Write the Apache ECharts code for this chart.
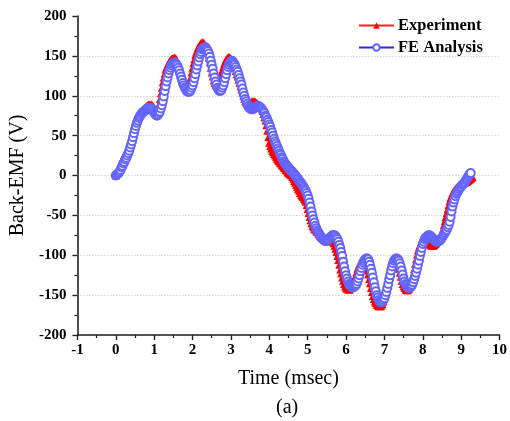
<!DOCTYPE html>
<html>
<head>
<meta charset="utf-8">
<title>Back-EMF waveform</title>
<script src="https://cdn.jsdelivr.net/npm/echarts@6/dist/echarts.min.js"></script>
<style>
  html, body { margin: 0; padding: 0; background: #fff; }
  #chart { width: 510px; height: 421px; }
</style>
</head>
<body>
<div id="chart"></div>
<script>
// Sampling interval of both waveforms, in msec
const sampleStep = 0.025;

// Measured back-EMF (V), one value per sample starting at t = 0
const experimentEmf = [
  0, 3, 6, 9, 12, 15, 18, 21, 23, 26, 28, 30, 32, 35, 38, 42, 46, 50, 55, 60,
  64, 68, 71, 74, 76, 78, 79, 81, 82, 84, 85, 86, 87, 88, 89, 89, 89, 89, 88, 87,
  85, 83, 82, 82, 84, 89, 96, 103, 110, 117, 123, 128, 133, 136, 139, 141, 143, 145, 146, 147,
  147, 148, 147, 146, 144, 141, 137, 132, 127, 122, 118, 115, 113, 112, 112, 113, 115, 119, 123, 129,
  135, 141, 146, 151, 155, 158, 161, 163, 165, 166, 167, 167, 166, 164, 162, 158, 154, 148, 142, 135,
  129, 124, 119, 116, 114, 113, 114, 116, 119, 123, 127, 132, 136, 140, 143, 145, 147, 148, 149, 148,
  147, 145, 142, 139, 135, 131, 127, 124, 120, 116, 112, 108, 104, 100, 96, 93, 91, 90, 90, 90,
  91, 92, 93, 93, 93, 93, 92, 91, 90, 89, 88, 86, 84, 81, 77, 73, 69, 63, 56, 48,
  41, 37, 34, 31, 29, 27, 25, 23, 21, 19, 18, 16, 15, 13, 12, 10, 9, 7, 6, 4,
  3, 2, 1, 0, -2, -4, -7, -9, -12, -14, -17, -19, -22, -24, -26, -27, -29, -31, -33, -37,
  -42, -47, -52, -56, -60, -63, -65, -67, -68, -70, -71, -73, -74, -76, -77, -78, -78, -79, -79, -80,
  -80, -80, -80, -80, -81, -82, -83, -85, -88, -92, -96, -101, -106, -112, -118, -123, -128, -132, -136, -139,
  -141, -142, -143, -143, -143, -141, -139, -136, -133, -129, -125, -121, -117, -114, -111, -109, -108, -107, -107, -109,
  -111, -115, -119, -124, -130, -135, -141, -146, -151, -155, -158, -160, -162, -163, -164, -164, -164, -163, -161, -158,
  -154, -149, -143, -136, -130, -124, -119, -115, -111, -109, -107, -107, -108, -110, -113, -117, -122, -127, -132, -136,
  -139, -141, -143, -144, -144, -143, -142, -139, -135, -130, -124, -117, -111, -105, -99, -94, -90, -87, -84, -82,
  -81, -80, -80, -81, -82, -83, -85, -86, -87, -88, -88, -88, -87, -86, -85, -83, -81, -79, -77, -74,
  -71, -67, -62, -57, -52, -47, -42, -37, -32, -28, -25, -22, -20, -18, -17, -15, -14, -13, -12, -11,
  -11, -10, -10, -9, -9, -8, -8, -7, -6, -5, -4, -3, -2
];

// Finite-element prediction of the back-EMF (V), same sampling
const feAnalysisEmf = [
  0, 1, 2, 3, 5, 7, 10, 12, 15, 17, 20, 22, 25, 28, 31, 35, 39, 43, 48, 53,
  58, 62, 66, 69, 72, 74, 76, 78, 79, 80, 81, 82, 83, 84, 85, 85, 85, 84, 83, 81,
  79, 77, 76, 75, 76, 78, 80, 84, 88, 93, 99, 106, 112, 118, 123, 128, 132, 135, 138, 140,
  141, 142, 141, 140, 138, 135, 132, 128, 124, 120, 116, 113, 110, 108, 106, 105, 105, 105, 107, 110,
  113, 117, 122, 127, 133, 138, 143, 148, 152, 155, 158, 159, 160, 161, 160, 158, 156, 153, 149, 144,
  139, 134, 128, 123, 118, 114, 110, 108, 106, 106, 107, 110, 113, 117, 122, 127, 132, 136, 139, 141,
  143, 144, 143, 141, 139, 136, 133, 130, 126, 122, 118, 114, 109, 104, 100, 96, 93, 90, 87, 85,
  84, 83, 83, 83, 84, 85, 86, 87, 87, 87, 86, 85, 84, 82, 80, 78, 75, 73, 70, 67,
  64, 61, 57, 54, 50, 46, 43, 40, 37, 34, 31, 28, 26, 23, 21, 18, 16, 14, 13, 11,
  10, 8, 7, 6, 5, 3, 2, 0, -1, -3, -4, -6, -8, -9, -11, -13, -15, -17, -19, -22,
  -25, -29, -34, -39, -45, -50, -55, -59, -63, -66, -69, -71, -73, -75, -77, -79, -80, -81, -82, -82,
  -82, -81, -80, -78, -77, -76, -75, -75, -75, -76, -78, -80, -83, -87, -91, -96, -101, -108, -114, -120,
  -125, -129, -133, -136, -138, -139, -140, -140, -140, -139, -138, -136, -133, -129, -125, -120, -116, -112, -109, -107,
  -105, -104, -104, -105, -108, -112, -117, -122, -128, -134, -140, -145, -150, -153, -156, -158, -159, -159, -158, -156,
  -154, -150, -146, -141, -136, -130, -125, -119, -114, -110, -107, -105, -104, -104, -105, -107, -110, -114, -119, -124,
  -129, -133, -136, -138, -140, -141, -141, -140, -139, -137, -134, -130, -126, -122, -117, -112, -107, -101, -96, -91,
  -86, -83, -80, -78, -77, -76, -75, -75, -76, -77, -78, -80, -81, -82, -83, -83, -83, -82, -81, -80,
  -78, -76, -74, -72, -70, -68, -65, -62, -58, -52, -45, -39, -34, -30, -26, -23, -21, -19, -17, -15,
  -14, -12, -11, -10, -8, -6, -4, -2, 0, 2, 3
];

const seriesNames = ['Experiment', 'FE Analysis'];
const xAxisTitle = 'Time (msec)';
const yAxisTitle = 'Back-EMF (V)';
const captionText = '(a)';

// Pair each sample with its time stamp
function withTime(values) {
  return values.map((v, i) => [+(i * sampleStep).toFixed(3), v]);
}

const serif = '"Liberation Serif", "Times New Roman", Times, serif';

const chart = echarts.init(document.getElementById('chart'), null, { renderer: 'canvas' });

chart.setOption({
  animation: false,
  backgroundColor: '#ffffff',
  grid: { left: 72, right: 7, top: 16, bottom: 86, containLabel: false },
  legend: {
    orient: 'vertical',
    left: 358,
    top: 17,
    padding: 0,
    itemWidth: 35,
    itemHeight: 8,
    itemGap: 5,
    textStyle: { fontFamily: serif, fontWeight: 'bold', fontSize: 16.5, color: '#000', lineHeight: 14, padding: [0, 0, 0, -1] },
    data: seriesNames
  },
  xAxis: {
    type: 'value',
    min: -1,
    max: 10,
    interval: 1,
    name: xAxisTitle,
    nameLocation: 'middle',
    nameGap: 34,
    nameTextStyle: { fontFamily: serif, fontSize: 20, color: '#000' },
    axisLine: { show: true, onZero: false, lineStyle: { color: '#222', width: 1.6 } },
    axisTick: { show: true, inside: false, length: 5, lineStyle: { color: '#222', width: 1.4 } },
    minorTick: { show: true, splitNumber: 2, length: 3, lineStyle: { color: '#222', width: 1.2 } },
    axisLabel: { fontFamily: serif, fontWeight: 'bold', fontSize: 15, color: '#000', margin: 8 },
    splitLine: { show: false }
  },
  yAxis: {
    type: 'value',
    min: -200,
    max: 200,
    interval: 50,
    name: yAxisTitle,
    nameLocation: 'middle',
    nameGap: 42,
    nameTextStyle: { fontFamily: serif, fontSize: 20, color: '#000' },
    axisLine: { show: true, onZero: false, lineStyle: { color: '#222', width: 1.6 } },
    axisTick: { show: true, inside: false, length: 5, lineStyle: { color: '#222', width: 1.4 } },
    minorTick: { show: true, splitNumber: 2, length: 3, lineStyle: { color: '#222', width: 1.2 } },
    axisLabel: { fontFamily: serif, fontWeight: 'bold', fontSize: 15, color: '#000', margin: 11 },
    splitLine: {
      show: true,
      lineStyle: {
        // no guide line along the top edge
        color: ['#bdbdbd', '#bdbdbd', '#bdbdbd', '#bdbdbd', '#bdbdbd', '#bdbdbd', '#bdbdbd', '#bdbdbd', 'rgba(0,0,0,0)'],
        type: [1, 2],
        width: 1
      }
    }
  },
  graphic: [{
    type: 'text',
    left: 276,
    top: 398,
    style: { text: captionText, font: '20px ' + serif, fill: '#000' }
  }],
  series: [
    {
      name: seriesNames[0],
      type: 'line',
      data: withTime(experimentEmf),
      symbol: 'triangle',
      symbolSize: 8,
      showSymbol: true,
      lineStyle: { color: '#ff2020', width: 1.5 },
      itemStyle: { color: '#ff0000' },
      z: 2
    },
    {
      name: seriesNames[1],
      type: 'line',
      data: withTime(feAnalysisEmf),
      symbol: 'emptyCircle',
      symbolSize: 8,
      showSymbol: true,
      lineStyle: { color: '#2a2ae0', width: 1.5 },
      itemStyle: { color: '#6464ff', borderColor: '#6464ff', borderWidth: 0.6 },
      z: 3
    }
  ]
});
</script>
</body>
</html>
